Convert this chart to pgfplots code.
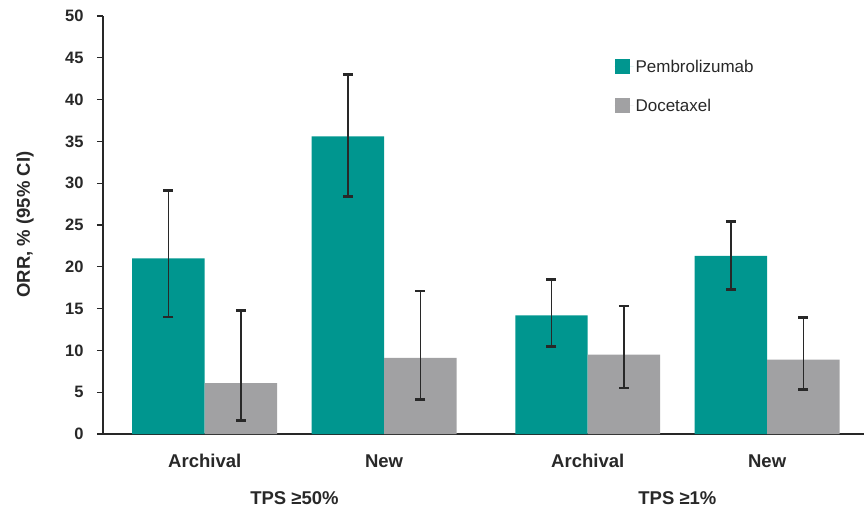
\documentclass[border=0pt]{standalone}
\usepackage{pgfplots}
\pgfplotsset{compat=1.18}
\usepackage{pgfplotstable}
\usepackage{fontspec}
\setmainfont{Liberation Sans}
\definecolor{teal1}{RGB}{0,150,143}
\definecolor{gray1}{RGB}{161,161,163}
\definecolor{axc}{RGB}{40,40,40}
\pgfplotstableread{
x y ep em
0     21.0 8.1 7.0
1     35.6 7.4 7.2
2.135 14.2 4.3 3.7
3.135 21.3 4.1 4.0
}\pembro
\pgfplotstableread{
x y ep em
0     6.1 8.7 4.5
1     9.1 8.0 5.0
2.135 9.5 5.8 4.0
3.135 8.9 5.0 3.55
}\doce
\begin{document}
\begin{tikzpicture}
\path[use as bounding box] (0,0) rectangle (868pt,507pt);
\begin{axis}[
  at={(103pt,73pt)}, anchor=south west,
  scale only axis, width=761pt, height=418pt,
  xmin=-0.567, xmax=3.675, ymin=0, ymax=50,
  ybar, bar width=0.404,
  axis x line*=bottom, axis y line*=left,
  axis line style={axc, line width=1.3pt, -},
  every tick/.style={axc, line width=1.3pt},
  tick align=outside,
  ytick={0,5,...,50},
  major tick length=6pt,
  xtick={0,1,2.135,3.135},
  xticklabels={Archival,New,Archival,New},
  x tick style={draw=none},
  extra x ticks={-0.567,1.558,3.675},
  extra x tick labels={},
  extra x tick style={tick style={axc, line width=1.3pt}, major tick length=6pt},
  yticklabel style={font=\fontsize{16.5}{18}\selectfont\bfseries, text=axc, xshift=-10pt},
  xticklabel style={font=\fontsize{18.5}{20}\selectfont\bfseries, text=axc, anchor=center, yshift=-21pt},
  /pgf/number format/assume math mode=true,
  ylabel={ORR, \% (95\% CI)},
  every axis y label/.style={at={(axis description cs:0,0.501)}, rotate=90, anchor=center, yshift=78pt,
    font=\fontsize{18.5}{20}\selectfont\bfseries, text=axc},
  clip=false,
  legend style={at={(0.668,0.905)}, anchor=north west, draw=none, fill=none,
    font=\fontsize{17}{19}\selectfont, text=axc, row sep=21pt,
    legend cell align=left},
  legend image code/.code={\fill[#1] (0pt,-7.5pt) rectangle (15pt,7.5pt); \path (0pt,0pt) -- (19pt,0pt);},
  error bars/error bar style={axc, line width=1.4pt},
  error bars/error mark options={rotate=90, mark size=5pt, line width=2.8pt, axc},
]
\addplot[bar shift=-0.202, fill=teal1, draw=none,
  error bars/.cd, y dir=both, y explicit]
  table[x=x, y=y, y error plus=ep, y error minus=em] {\pembro};
\addlegendentry{Pembrolizumab}
\addplot[bar shift=0.202, fill=gray1, draw=none,
  error bars/.cd, y dir=both, y explicit]
  table[x=x, y=y, y error plus=ep, y error minus=em] {\doce};
\addlegendentry{Docetaxel}
\node[font=\fontsize{18.5}{20}\selectfont\bfseries, text=axc] at (axis cs:0.5,0) [yshift=-64pt] {TPS ≥50\%};
\node[font=\fontsize{18.5}{20}\selectfont\bfseries, text=axc] at (axis cs:2.635,0) [yshift=-64pt] {TPS ≥1\%};
\end{axis}
\end{tikzpicture}
\end{document}
